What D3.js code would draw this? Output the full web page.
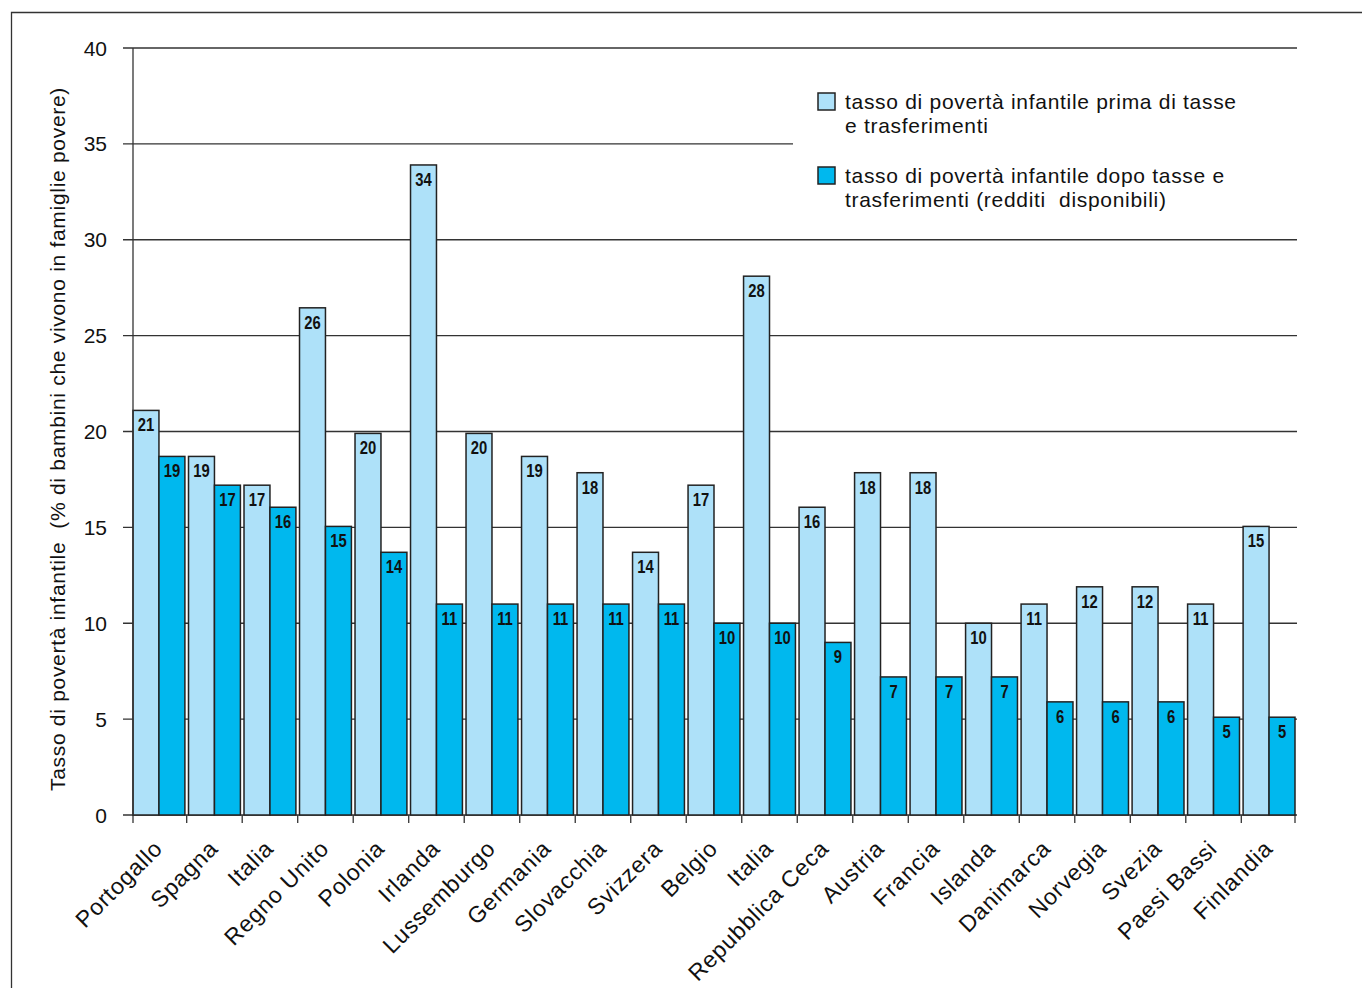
<!DOCTYPE html>
<html>
<head>
<meta charset="utf-8">
<script src="https://cdn.jsdelivr.net/npm/d3@7"></script>
<style>
  html, body { margin: 0; padding: 0; background: #fff; }
  svg { display: block; }
</style>
</head>
<body>
<script>
// ---- Data ----
const countries = ["Portogallo","Spagna","Italia","Regno Unito","Polonia","Irlanda","Lussemburgo","Germania","Slovacchia","Svizzera","Belgio","Italia","Repubblica Ceca","Austria","Francia","Islanda","Danimarca","Norvegia","Svezia","Paesi Bassi","Finlandia"];
const beforeValues = [21.1, 18.7, 17.2, 26.45, 19.9, 33.9, 19.9, 18.7, 17.85, 13.7, 17.2, 28.1, 16.05, 17.85, 17.85, 10.0, 11.0, 11.9, 11.9, 11.0, 15.05];
const afterValues  = [18.7, 17.2, 16.05, 15.05, 13.7, 11.0, 11.0, 11.0, 11.0, 11.0, 10.0, 10.0, 9.0, 7.2, 7.2, 7.2, 5.9, 5.9, 5.9, 5.1, 5.1];
const beforeLabels = [21, 19, 17, 26, 20, 34, 20, 19, 18, 14, 17, 28, 16, 18, 18, 10, 11, 12, 12, 11, 15];
const afterLabels  = [19, 17, 16, 15, 14, 11, 11, 11, 11, 11, 10, 10, 9, 7, 7, 7, 6, 6, 6, 5, 5];
const yTicks = [0, 5, 10, 15, 20, 25, 30, 35, 40];
const seriesNames = ["tasso di povertà infantile prima di tasse\ne trasferimenti",
                     "tasso di povertà infantile dopo tasse e\ntrasferimenti (redditi  disponibili)"];
const yTitle = "Tasso di povertà infantile  (% di bambini che vivono in famiglie povere)";
const colors = ["#aee1f9", "#00b8ee"];

(function () {
// ---- Layout ----
const W = 1362, H = 988;
const mLeft = 133, mRight = 1295, mTop = 48, mBottom = 815;
const font = "'Liberation Sans', Arial, Helvetica, sans-serif";
const ink = "#222";

const svg = d3.select("body").append("svg").attr("width", W).attr("height", H);

// frame
svg.append("path").attr("d", `M11.5,${H} L11.5,12.5 L${W},12.5`)
  .attr("fill", "none").attr("stroke", "#333").attr("stroke-width", 1.3);

const idx = countries.map((d, i) => i);
const padIn = 0.065;
const x0 = d3.scaleBand().domain(idx).range([mLeft, mRight]).paddingInner(padIn).paddingOuter(0);
const x1 = d3.scaleBand().domain([0, 1]).range([0, x0.bandwidth()]);
const y = d3.scaleLinear().domain([0, 40]).range([mBottom, mTop]);

// gridlines (with left ticks)
svg.append("g").selectAll("line").data(yTicks).join("line")
  .attr("x1", 123).attr("x2", d => d === 35 ? 793 : 1297)
  .attr("y1", d => y(d)).attr("y2", d => y(d))
  .attr("stroke", "#333").attr("stroke-width", 1.3);

// y tick labels
svg.append("g").selectAll("text").data(yTicks).join("text")
  .attr("x", 107).attr("y", d => y(d)).attr("dy", "0.36em")
  .attr("text-anchor", "end")
  .attr("font-family", font).attr("font-size", 21).attr("fill", "#111")
  .text(d => d);

// x ticks at group boundaries
const step = x0.step();
const boundaries = [mLeft].concat(idx.slice(1).map(i => x0(i) - step * padIn / 2), [mRight]);
svg.append("g").selectAll("line").data(boundaries).join("line")
  .attr("x1", d => d).attr("x2", d => d)
  .attr("y1", mBottom).attr("y2", mBottom + 8)
  .attr("stroke", "#333").attr("stroke-width", 1.3);

// bars
const series = [beforeValues, afterValues];
const labels = [beforeLabels, afterLabels];
const groups = svg.append("g").selectAll("g").data(idx).join("g")
  .attr("transform", i => `translate(${x0(i)},0)`);

[0, 1].forEach(s => {
  groups.append("rect")
    .attr("x", x1(s)).attr("width", x1.bandwidth())
    .attr("y", i => y(series[s][i]))
    .attr("height", i => mBottom - y(series[s][i]))
    .attr("fill", colors[s]).attr("stroke", ink).attr("stroke-width", 1.5);
  groups.append("text")
    .attr("transform", i => `translate(${x1(s) + x1.bandwidth() / 2},${y(series[s][i]) + 21}) scale(0.8,1)`)
    .attr("text-anchor", "middle")
    .attr("font-family", font).attr("font-weight", "bold").attr("font-size", 18.5).attr("fill", "#111")
    .text(i => labels[s][i]);
});

// y axis line
svg.append("line").attr("x1", mLeft).attr("x2", mLeft).attr("y1", y(40)).attr("y2", mBottom)
  .attr("stroke", "#333").attr("stroke-width", 1.3);

// x labels
svg.append("g").selectAll("text").data(idx).join("text")
  .attr("transform", i => `translate(${x0(i) + x0.bandwidth() / 2 + 5},850) rotate(-45)`)
  .attr("text-anchor", "end")
  .attr("font-family", font).attr("font-size", 23).attr("letter-spacing", "0.8px").attr("fill", "#111")
  .text(i => countries[i]);

// y title
svg.append("text")
  .attr("transform", `translate(65,439) rotate(-90)`)
  .attr("text-anchor", "middle")
  .attr("font-family", font).attr("font-size", 21).attr("letter-spacing", "0.7px").attr("fill", "#111")
  .style("white-space", "pre")
  .text(yTitle);

// legend
const legend = svg.append("g");
const legendY = [93, 167];
seriesNames.forEach((name, s) => {
  legend.append("rect").attr("x", 818).attr("y", legendY[s]).attr("width", 17).attr("height", 17)
    .attr("fill", colors[s]).attr("stroke", ink).attr("stroke-width", 1.5);
  const t = legend.append("text").attr("x", 845).attr("y", legendY[s] + 16)
    .attr("font-family", font).attr("font-size", 21).attr("letter-spacing", "0.7px").attr("fill", "#111")
    .style("white-space", "pre");
  name.split("\n").forEach((line, k) => {
    t.append("tspan").attr("x", 845).attr("dy", k === 0 ? 0 : 24).text(line);
  });
});
})();
</script>
</body>
</html>
